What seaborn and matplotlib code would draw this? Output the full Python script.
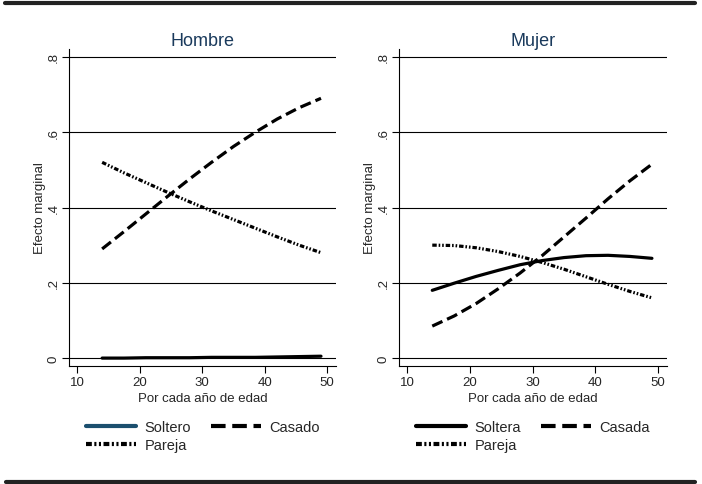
import numpy as np
import pandas as pd
import seaborn as sns
import matplotlib.pyplot as plt
from matplotlib.lines import Line2D

# edades
edad = [14, 17.5, 21, 24.5, 28, 31.5, 35, 38.5, 42, 45.5, 49]

# Hombre
h_soltero = [0.000, 0.000, 0.001, 0.001, 0.001, 0.002, 0.002, 0.002, 0.003, 0.004, 0.005]
h_casado = [0.290, 0.336, 0.383, 0.430, 0.476, 0.520, 0.562, 0.600, 0.635, 0.665, 0.690]
h_pareja = [0.520, 0.492, 0.466, 0.440, 0.415, 0.391, 0.368, 0.345, 0.322, 0.300, 0.280]

# Mujer
m_soltera = [0.180, 0.199, 0.217, 0.233, 0.248, 0.259, 0.267, 0.272, 0.273, 0.270, 0.265]
m_casada = [0.085, 0.112, 0.145, 0.184, 0.226, 0.272, 0.322, 0.372, 0.423, 0.471, 0.515]
m_pareja = [0.300, 0.299, 0.293, 0.283, 0.270, 0.254, 0.236, 0.216, 0.196, 0.177, 0.160]

yticks = [0, 0.2, 0.4, 0.6, 0.8]
ylabels = ['0', '.2', '.4', '.6', '.8']
xticks = [10, 20, 30, 40, 50]

sns.set_style('white')
plt.rcParams['font.family'] = ['Liberation Sans', 'DejaVu Sans']

navy = '#1a3a5c'
blue = '#1b4f6e'
lw = 2.3
ls_dash = (0, (3.5, 1.6))
ls_dot = (0, (1.4, 0.6, 0.5, 0.6, 0.5, 0.6))

fig = plt.figure(figsize=(7.02, 4.85), dpi=100)
ax1 = fig.add_axes([69/702, 118/485, 267/702, 317/485])
ax2 = fig.add_axes([399/702, 118/485, 268/702, 317/485])

def panel(ax, titulo, sol, cas, par, nombres, col_sol):
    ax.set_xlim(8.7, 51.4)
    ax.set_ylim(-0.021, 0.821)
    for y in yticks:
        ax.axhline(y, color='black', lw=0.8, zorder=1)
    sns.lineplot(x=edad, y=sol, ax=ax, color='black', lw=lw, zorder=3)
    sns.lineplot(x=edad, y=cas, ax=ax, color='black', lw=lw, linestyle=ls_dash, zorder=3)
    sns.lineplot(x=edad, y=par, ax=ax, color='black', lw=lw, linestyle=ls_dot, zorder=3)
    ax.set_yticks(yticks)
    ax.set_yticklabels(ylabels, rotation=90, va='center', fontsize=9.5)
    ax.set_xticks(xticks)
    ax.set_xticklabels([str(v) for v in xticks], fontsize=9.5)
    ax.tick_params(axis='both', direction='out', length=5, width=0.8, color='black',
                   left=True, bottom=True, pad=2)
    ax.set_xlabel('Por cada año de edad', fontsize=9.5, labelpad=3)
    ax.set_ylabel('Efecto marginal', fontsize=9.5, labelpad=1)
    ax.set_title(titulo, fontsize=13, color=navy, pad=3)
    for s in ['top', 'right']:
        ax.spines[s].set_visible(False)
    for s in ['left', 'bottom']:
        ax.spines[s].set_color('black')
        ax.spines[s].set_linewidth(0.8)
    h_sol = Line2D([], [], color=col_sol, lw=3)
    h_cas = Line2D([], [], color='black', lw=3, linestyle=ls_dash)
    h_par = Line2D([], [], color='black', lw=3, linestyle=ls_dot)
    # ncol=2 llena por columnas: Soltero/Pareja, luego Casado
    ax.legend([h_sol, h_par, h_cas], [nombres[0], nombres[2], nombres[1]], ncol=2,
              frameon=False, loc='upper left',
              bbox_to_anchor=(0.064, -0.171), borderaxespad=0, borderpad=0,
              fontsize=10.5, handlelength=3.4, handletextpad=0.6,
              columnspacing=1.4, labelspacing=0.25)

panel(ax1, 'Hombre', h_soltero, h_casado, h_pareja, ['Soltero', 'Casado', 'Pareja'], blue)
panel(ax2, 'Mujer', m_soltera, m_casada, m_pareja, ['Soltera', 'Casada', 'Pareja'], 'black')

# barras negras arriba y abajo
fig.add_artist(Line2D([5/702, 695/702], [1 - 4/485, 1 - 4/485], color='#222222', lw=3))
fig.add_artist(Line2D([6/702, 695/702], [2/485, 2/485], color='#222222', lw=3))

fig.savefig('out.png', dpi=100)
